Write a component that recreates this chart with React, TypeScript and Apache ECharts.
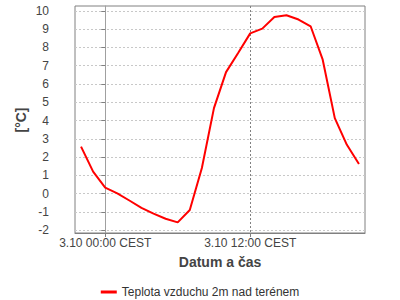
import React, { useEffect, useRef } from "react";
import * as echarts from "echarts";

// hours relative to 3.10 00:00 CEST
const hours = [-2, -1, 0, 1, 2, 3, 4, 5, 6, 7, 8, 9, 10, 11, 12, 13, 14, 15, 16, 17, 18, 19, 20, 21];
const temps = [2.57, 1.2, 0.32, 0.01, -0.38, -0.78, -1.1, -1.38, -1.58, -0.9, 1.4, 4.68, 6.65, 7.7, 8.77, 9.03, 9.67, 9.76, 9.53, 9.16, 7.33, 4.13, 2.67, 1.62];
const yTicks = [-2, -1, 0, 1, 2, 3, 4, 5, 6, 7, 8, 9, 10];
const xTicks = [0, 12];
const seriesName = "Teplota vzduchu 2m nad terénem";
const xName = "Datum a čas";
const yName = "[°C]";

export default function App() {
  const ref = useRef<HTMLDivElement>(null);
  useEffect(() => {
    document.body.style.margin = "0";
    if (!ref.current) return;
    const chart = echarts.init(ref.current, null, { renderer: "svg" });
    const font = "'Liberation Sans', Arial, sans-serif";
    chart.setOption({
      animation: false,
      backgroundColor: "#ffffff",
      textStyle: { fontFamily: font },
      grid: {
        left: 75,
        right: 35,
        top: 6,
        bottom: 67,
        show: true,
        borderColor: "#808080",
        borderWidth: 1,
        backgroundColor: "#ffffff",
      },
      xAxis: {
        type: "value",
        min: -2.5,
        max: 21.5,
        name: xName,
        nameLocation: "middle",
        nameGap: 22,
        nameTextStyle: { fontFamily: font, fontSize: 14, fontWeight: "bold", color: "#444" },
        axisLine: { show: true, onZero: false, lineStyle: { color: "#808080" } },
        axisTick: { show: true, length: 4, customValues: xTicks, lineStyle: { color: "#808080" } },
        axisLabel: {
          customValues: xTicks,
          margin: 4,
          fontFamily: font,
          fontSize: 12,
          color: "#444",
          formatter: (v: number) => `3.10 ${String(v).padStart(2, "0")}:00 CEST`,
        },
        splitLine: { show: true, lineStyle: { color: "#808080", type: [2, 2], width: 1 } },
      },
      yAxis: {
        type: "value",
        min: -2.16,
        max: 10.27,
        offset: 22,
        axisLine: { show: true, lineStyle: { color: "#a0a0a0" } },
        axisTick: { show: true, length: 4, customValues: yTicks, lineStyle: { color: "#808080" } },
        axisLabel: {
          customValues: yTicks,
          margin: 4,
          fontFamily: font,
          fontSize: 12,
          color: "#444",
        },
        splitLine: { show: true, lineStyle: { color: "#c8c8c8", type: [2, 2], width: 1 } },
      },
      legend: {
        left: "center",
        top: 281,
        icon: "rect",
        itemWidth: 16,
        itemHeight: 3,
        itemGap: 10,
        textStyle: { fontFamily: font, fontSize: 12, color: "#333" },
        data: [seriesName],
      },
      graphic: [
        {
          type: "text",
          x: 21,
          y: 120,
          rotation: Math.PI / 2,
          style: {
            text: yName,
            font: `bold 14px ${font}`,
            fill: "#444",
            align: "center",
            verticalAlign: "middle",
          },
        },
      ],
      series: [
        {
          name: seriesName,
          type: "line",
          data: hours.map((h, i) => [h, temps[i]]),
          showSymbol: false,
          symbol: "none",
          lineStyle: { color: "#ff0000", width: 2 },
          itemStyle: { color: "#ff0000" },
        },
      ],
    });
    return () => chart.dispose();
  }, []);
  return <div ref={ref} style={{ width: 400, height: 300 }} />;
}
